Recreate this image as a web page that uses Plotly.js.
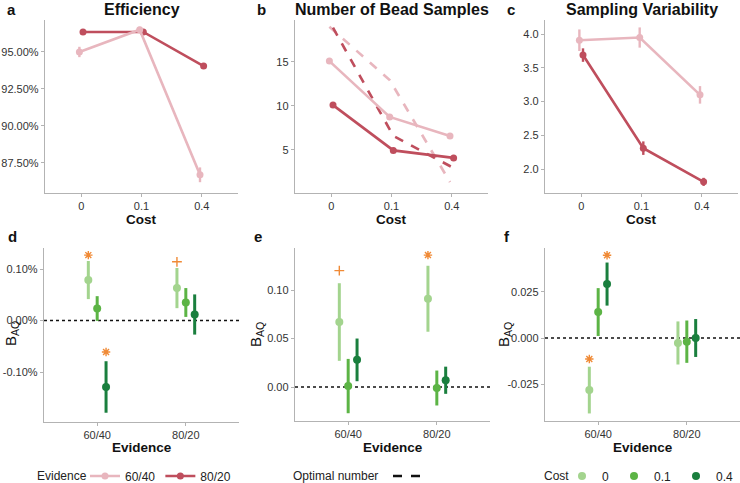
<!DOCTYPE html>
<html>
<head>
<meta charset="utf-8">
<script src="https://cdn.plot.ly/plotly-3.0.1.min.js"></script>
<style>html,body{margin:0;padding:0;background:#fff}#chart{width:740px;height:483px}</style>
</head>
<body>
<div id="chart"></div>
<script>
// ---------- data ----------
const costLevels = ['0', '0.1', '0.4'];
const evidenceLevels = ['60/40', '80/20'];

// Panel a: Efficiency (%)
const effLow = [95.0, 96.5, 86.7];        // 60/40
const effLowErr = [0.35, 0.2, 0.5];
const effHigh = [96.35, 96.35, 94.05];    // 80/20
const effHighErr = [0.2, 0.15, 0.1];

// Panel b: Number of bead samples
const samplesLow = [15.1, 8.75, 6.6];
const samplesLowErr = [0.3, 0.2, 0.2];
const samplesHigh = [10.1, 4.95, 4.1];
const samplesHighErr = [0.3, 0.15, 0.15];
const optimalLow = [19.0, 12.95, 1.35];
const optimalHigh = [18.9, 6.6, 2.95];

// Panel c: Sampling variability
const varLow = [3.91, 3.95, 3.10];
const varLowErr = [0.16, 0.15, 0.13];
const varHigh = [3.69, 2.31, 1.81];
const varHighErr = [0.1, 0.1, 0.06];

// Panel d: B_AQ efficiency (%), per cost level, values for [60/40, 80/20]
const dCost0 = [0.0786, 0.063];   const dCost0Err = [0.037, 0.039];
const dCost01 = [0.0233, 0.035];  const dCost01Err = [0.024, 0.028];
const dCost04 = [-0.129, 0.0117]; const dCost04Err = [0.05, 0.039];
const dSigEvidence = ['60/40', '60/40', '80/20'];
const dSigCost = ['0', '0.4', '0'];
const dSigY = [0.127, -0.061, 0.114];
const dSigMark = ['*', '*', '+'];

// Panel e: B_AQ number of samples
const eCost0 = [0.067, 0.091];    const eCost0Err = [0.040, 0.034];
const eCost01 = [0.001, -0.001];  const eCost01Err = [0.028, 0.018];
const eCost04 = [0.028, 0.007];   const eCost04Err = [0.022, 0.014];
const eSigEvidence = ['60/40', '80/20'];
const eSigCost = ['0', '0'];
const eSigY = [0.12, 0.136];
const eSigMark = ['+', '*'];

// Panel f: B_AQ sampling variability
const fCost0 = [-0.0283, -0.0027]; const fCost0Err = [0.0127, 0.0117];
const fCost01 = [0.0141, -0.002];  const fCost01Err = [0.013, 0.0115];
const fCost04 = [0.0293, 0.0];     const fCost04Err = [0.0117, 0.0103];
const fSigEvidence = ['60/40', '60/40'];
const fSigCost = ['0', '0.4'];
const fSigY = [-0.0114, 0.045];
const fSigMark = ['*', '*'];

// tick labels
const effTickVals = [87.5, 90, 92.5, 95];
const effTickText = ['87.50%', '90.00%', '92.50%', '95.00%'];
const samplesTickVals = [5, 10, 15];
const varTickVals = [2.0, 2.5, 3.0, 3.5, 4.0];
const varTickText = ['2.0', '2.5', '3.0', '3.5', '4.0'];
const dTickVals = [-0.1, 0, 0.1];
const dTickText = ['-0.10%', '0.00%', '0.10%'];
const eTickVals = [0, 0.05, 0.1];
const eTickText = ['0.00', '0.05', '0.10'];
const fTickVals = [-0.025, 0, 0.025];
const fTickText = ['-0.025', '0.000', '0.025'];

// ---------- styles ----------
const FONT = 'Liberation Sans, Arial, sans-serif';
const LIGHT = '#e8b6be';
const DARK = '#bf4e5d';
const GREENS = ['#a3d48e', '#5cb445', '#1a7f3e'];
const ORANGE = '#f08a36';
const W = 740, H = 483;
const px = v => v / W;
const py = v => 1 - v / H;

const topDodge = 0.03;
const botDodge = [-0.1, 0, 0.1];

function topTrace(ax, y, err, color, name, showleg, dash, rank) {
  const off = color === LIGHT ? -topDodge : topDodge;
  const t = {
    type: 'scatter', mode: err ? 'lines+markers' : 'lines',
    x: costLevels.map((c, i) => i + off), y: y,
    xaxis: 'x' + ax, yaxis: 'y' + ax,
    line: {color: color, width: 2.6, dash: dash || 'solid'},
    marker: {color: color, size: 7},
    name: name, legendgroup: name, showlegend: showleg, legend: 'legend', legendrank: rank,
    hoverinfo: 'x+y'
  };
  if (err) t.error_y = {type: 'data', array: err, visible: true, color: color, thickness: 2.4, width: 0};
  return t;
}

const traces = [];
// a
traces.push(topTrace('', effHigh, effHighErr, DARK, '80/20', true, null, 2));
traces.push(topTrace('', effLow, effLowErr, LIGHT, '60/40', true, null, 1));
// b
traces.push(topTrace('2', optimalLow, null, LIGHT, 'opt60', false, 'dash', 3));
traces.push(topTrace('2', optimalHigh, null, DARK, 'opt80', false, 'dash', 3));
traces.push(topTrace('2', samplesHigh, samplesHighErr, DARK, '80/20', false, null, 2));
traces.push(topTrace('2', samplesLow, samplesLowErr, LIGHT, '60/40', false, null, 1));
// c
traces.push(topTrace('3', varHigh, varHighErr, DARK, '80/20', false, null, 2));
traces.push(topTrace('3', varLow, varLowErr, LIGHT, '60/40', false, null, 1));

// legend key for optimal number
traces.push({type: 'scatter', mode: 'lines', x: [null], y: [null], xaxis: 'x2', yaxis: 'y2',
  line: {color: '#111', width: 2.6, dash: 'dash'}, name: ' ', legend: 'legend2', showlegend: true});

// bottom panels
const bottom = [
  {ax: '4', vals: [dCost0, dCost01, dCost04], errs: [dCost0Err, dCost01Err, dCost04Err],
   sigE: dSigEvidence, sigC: dSigCost, sigY: dSigY, sigM: dSigMark},
  {ax: '5', vals: [eCost0, eCost01, eCost04], errs: [eCost0Err, eCost01Err, eCost04Err],
   sigE: eSigEvidence, sigC: eSigCost, sigY: eSigY, sigM: eSigMark},
  {ax: '6', vals: [fCost0, fCost01, fCost04], errs: [fCost0Err, fCost01Err, fCost04Err],
   sigE: fSigEvidence, sigC: fSigCost, sigY: fSigY, sigM: fSigMark}
];
bottom.forEach((p, pi) => {
  costLevels.forEach((c, ci) => {
    traces.push({
      type: 'scatter', mode: 'markers',
      x: evidenceLevels.map((e, ei) => ei + botDodge[ci]), y: p.vals[ci],
      xaxis: 'x' + p.ax, yaxis: 'y' + p.ax,
      marker: {color: GREENS[ci], size: 8},
      error_y: {type: 'data', array: p.errs[ci], visible: true, color: GREENS[ci], thickness: 3, width: 0},
      name: c, legendgroup: 'cost' + c, showlegend: pi === 0, legend: 'legend3'
    });
  });
  traces.push({
    type: 'scatter', mode: 'markers',
    x: p.sigE.map((e, i) => evidenceLevels.indexOf(e) + botDodge[costLevels.indexOf(p.sigC[i])]),
    y: p.sigY,
    xaxis: 'x' + p.ax, yaxis: 'y' + p.ax,
    marker: {color: ORANGE, size: 7,
      symbol: p.sigM.map(m => m === '*' ? 'asterisk-open' : 'cross-thin-open'),
      line: {color: ORANGE, width: 1.4}},
    showlegend: false, hoverinfo: 'y'
  });
});

// ---------- axes ----------
const tickFont = {family: FONT, size: 11, color: '#333'};
function xAxis(x0, x1, labels, range) {
  return {domain: [px(x0), px(x1)], range: range,
    tickvals: labels.map((l, i) => i), ticktext: labels,
    showline: true, linecolor: '#b3b3b3', linewidth: 1.2, ticks: 'outside', ticklen: 3,
    tickcolor: '#b3b3b3', showgrid: false, zeroline: false, tickfont: tickFont, fixedrange: true};
}
function yAxis(yTop, yBot, range, tv, tt) {
  return {domain: [py(yBot), py(yTop)], range: range, tickvals: tv, ticktext: tt,
    showline: true, linecolor: '#b3b3b3', linewidth: 1.2, ticks: 'outside', ticklen: 3,
    tickcolor: '#b3b3b3', showgrid: false, zeroline: false, tickfont: tickFont, fixedrange: true};
}

const legFont = {family: FONT, size: 12, color: '#222'};
function legendAt(symbolCenterX) {
  return {orientation: 'h', x: px(symbolCenterX - 20), y: py(476), xanchor: 'left', yanchor: 'middle',
    font: legFont, bgcolor: 'rgba(0,0,0,0)', borderwidth: 0, itemwidth: 30};
}
const layout = {
  width: W, height: H, margin: {l: 0, r: 0, t: 0, b: 0, autoexpand: false},
  paper_bgcolor: '#fff', plot_bgcolor: '#fff',
  font: {family: FONT, color: '#222'},
  hovermode: 'closest',
  xaxis: Object.assign(xAxis(45, 238, costLevels, [-0.6, 2.6]), {anchor: 'y'}),
  yaxis: Object.assign(yAxis(20, 193, [85.47, 97.16], effTickVals, effTickText), {anchor: 'x'}),
  xaxis2: Object.assign(xAxis(295, 488, costLevels, [-0.6, 2.6]), {anchor: 'y2'}),
  yaxis2: Object.assign(yAxis(20, 193, [0.11, 19.77], samplesTickVals, samplesTickVals.map(String)), {anchor: 'x2'}),
  xaxis3: Object.assign(xAxis(545, 738, costLevels, [-0.6, 2.6]), {anchor: 'y3'}),
  yaxis3: Object.assign(yAxis(20, 193, [1.645, 4.21], varTickVals, varTickText), {anchor: 'x3'}),
  xaxis4: Object.assign(xAxis(44, 239, evidenceLevels, [-0.6, 1.6]), {anchor: 'y4'}),
  yaxis4: Object.assign(yAxis(248, 422, [-0.197, 0.1408], dTickVals, dTickText), {anchor: 'x4'}),
  xaxis5: Object.assign(xAxis(295, 490, evidenceLevels, [-0.6, 1.6]), {anchor: 'y5'}),
  yaxis5: Object.assign(yAxis(248, 421, [-0.035, 0.1433], eTickVals, eTickText), {anchor: 'x5'}),
  xaxis6: Object.assign(xAxis(545, 740, evidenceLevels, [-0.6, 1.6]), {anchor: 'y6'}),
  yaxis6: Object.assign(yAxis(248, 421, [-0.0451, 0.0489], fTickVals, fTickText), {anchor: 'x6'}),
  shapes: ['4', '5', '6'].map(a => ({type: 'line', xref: 'x' + a + ' domain', x0: 0, x1: 1,
    yref: 'y' + a, y0: 0, y1: 0, line: {color: '#111', width: 1.6, dash: 'dot'}, layer: 'below'})),
  legend: legendAt(105),
  legend2: legendAt(408),
  legend3: legendAt(582),
  annotations: []
};

function ann(text, x, y, size, opts) {
  layout.annotations.push(Object.assign({text: text, xref: 'paper', yref: 'paper', x: px(x), y: py(y),
    xanchor: 'center', yanchor: 'middle', showarrow: false,
    font: {family: FONT, size: size, color: '#111'}}, opts || {}));
}
// panel titles
ann('<b>Efficiency</b>', 141.5, 9, 16);
ann('<b>Number of Bead Samples</b>', 391.5, 9, 16);
ann('<b>Sampling Variability</b>', 641.5, 9, 16);
// panel letters
ann('<b>a</b>', 11, 9, 15);
ann('<b>b</b>', 261, 9, 15);
ann('<b>c</b>', 511, 9, 15);
ann('<b>d</b>', 12, 237, 15);
ann('<b>e</b>', 258, 237, 15);
ann('<b>f</b>', 507, 237, 15);
// x titles
ann('<b>Cost</b>', 141.5, 219, 13.5);
ann('<b>Cost</b>', 391.5, 219, 13.5);
ann('<b>Cost</b>', 641.5, 219, 13.5);
ann('<b>Evidence</b>', 141.5, 447, 13.5);
ann('<b>Evidence</b>', 392.5, 447, 13.5);
ann('<b>Evidence</b>', 642.5, 447, 13.5);
// y titles
ann('B<sub>AQ</sub>', 11, 334, 15, {textangle: -90});
ann('B<sub>AQ</sub>', 256, 335, 15, {textangle: -90});
ann('B<sub>AQ</sub>', 504, 335, 15, {textangle: -90});
// legend titles
const legTitle = {xanchor: 'left', font: {family: FONT, size: 12, color: '#222'}};
ann('Evidence', 35, 476, 12, legTitle);
ann('Optimal number', 291, 476, 12, legTitle);
ann('Cost', 542, 476, 12, legTitle);

Plotly.newPlot('chart', traces, layout, {displayModeBar: false, staticPlot: true});
</script>
</body>
</html>
